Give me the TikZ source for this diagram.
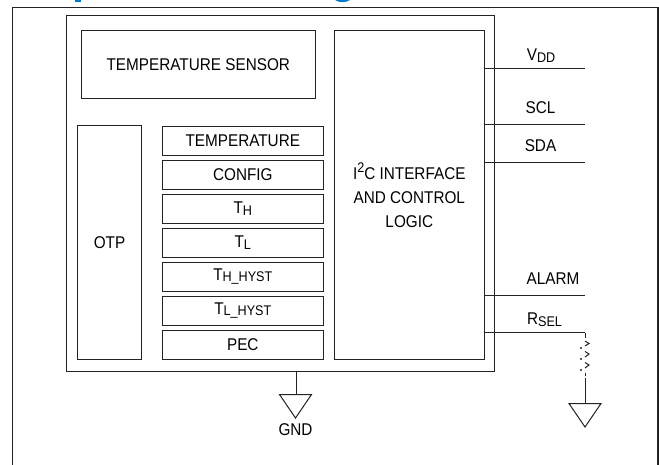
\documentclass[tikz,border=0pt]{standalone}
\usepackage{fontspec}
\setmainfont[FakeStretch=0.9]{Liberation Sans}
\definecolor{ln}{RGB}{35,35,35}
\definecolor{ttl}{RGB}{0,120,200}
\newcommand{\lab}[2]{#1\raisebox{-0.1em}{\fontsize{14}{14}\selectfont #2}}
\tikzset{
  x=1pt,y=-1pt,
  blk/.style={draw=ln,line width=1.1pt,fill=white,inner sep=0pt,anchor=north west,text=black,align=center,font=\fontsize{17}{24}\selectfont},
  wire/.style={draw=ln,line width=1pt},
  pin/.style={inner sep=0pt,text=black,font=\fontsize{17}{18}\selectfont},
  gnd/.style={draw=ln,line width=1pt,line join=miter}
}
\begin{document}
\begin{tikzpicture}
\useasboundingbox (0,0) rectangle (659,464);
\fill[white] (0,0) rectangle (659,464);
\fill[ttl] (75,0) rectangle (80.5,2.2);
\fill[ttl] (335,0) .. controls (338,2.8) and (347,2.8) .. (350,0) -- cycle;
\draw[draw=ln,line width=1.1pt] (12.5,480) -- (12.5,7.5) -- (658,7.5) -- (658,480);
\node[blk,minimum width=428.5pt,minimum height=356pt] (main) at (65.5,14.5) {};
\node[blk,minimum width=234.5pt,minimum height=68pt] (sensor) at (80.5,30) {TEMPERATURE SENSOR};
\node[blk,minimum width=64pt,minimum height=234pt] (otp) at (77,125) {OTP};
\node[blk,minimum width=160.5pt,minimum height=29pt] (r1) at (162,125.5) {TEMPERATURE};
\node[blk,minimum width=160.5pt,minimum height=29pt] (r2) at (162,159.5) {CONFIG};
\node[blk,minimum width=160.5pt,minimum height=29pt] (r3) at (162,193.5) {\lab{T}{H}};
\node[blk,minimum width=160.5pt,minimum height=29pt] (r4) at (162,227.5) {\lab{T}{L}};
\node[blk,minimum width=160.5pt,minimum height=29pt] (r5) at (162,261.5) {\lab{T}{H\_HYST}};
\node[blk,minimum width=160.5pt,minimum height=29pt] (r6) at (162,295.5) {\lab{T}{L\_HYST}};
\node[blk,minimum width=160.5pt,minimum height=29pt] (r7) at (162,329.5) {PEC};
\node[blk,minimum width=150.5pt,minimum height=329pt] (ctl) at (333.5,30) {I\raisebox{0.38em}{\fontsize{14}{14}\selectfont 2}C INTERFACE\\AND CONTROL\\LOGIC};
\coordinate (evdd) at (585,68);
\coordinate (escl) at (585,124.5);
\coordinate (esda) at (585,162.5);
\coordinate (ealm) at (585,295);
\coordinate (ersl) at (585,332.5);
\draw[wire] (ctl.east |- evdd) -- (evdd);
\draw[wire] (ctl.east |- escl) -- (escl);
\draw[wire] (ctl.east |- esda) -- (esda);
\draw[wire] (ctl.east |- ealm) -- (ealm);
\draw[wire] (ctl.east |- ersl) -- (ersl);
\node[pin] (lvdd) at (541,55.5) {\lab{V}{DD}};
\node[pin] (lscl) at (540.5,108) {SCL};
\node[pin] (lsda) at (540.5,146) {SDA};
\node[pin] (lalm) at (553,279) {ALARM};
\node[pin] (lrsl) at (544.5,320) {\lab{R}{SEL}};
% resistor
\coordinate (r9) at (585,378);
\draw[wire] (ersl) -- (585,338);
\draw[wire] (585,341) -- (589,343.5) -- (585,346);
\fill[ln] (581,348) circle (1.1);
\draw[wire] (585,351.5) -- (589,354) -- (585,357);
\fill[ln] (581,359) circle (1.1);
\draw[wire] (585,362.5) -- (589,365) -- (585,368);
\fill[ln] (581,370) circle (1.1);
\draw[wire] (585,372.5) -- (585,375.5);
\coordinate (g2) at (585,403.5);
\draw[wire] (r9) -- (g2);
\draw[gnd] (569,403.5) -- (601,403.5) -- (585,427) -- cycle;
% gnd
\coordinate (g1) at (296,394.5);
\draw[wire] (main.south -| g1) -- (g1);
\draw[gnd] (279.5,394.5) -- (311.5,394.5) -- (295.5,418) -- cycle;
\node[pin] (lgnd) at (295.5,429.5) {GND};
\end{tikzpicture}
\end{document}
